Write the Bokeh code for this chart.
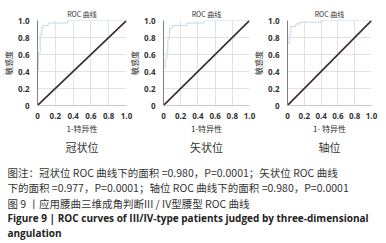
from bokeh.plotting import figure
from bokeh.layouts import row, column
from bokeh.models import FixedTicker, CustomJSTickFormatter, Title, Range1d
from bokeh.core.properties import value
from bokeh.embed import file_html
from bokeh.resources import INLINE

# ---- data ----
panel_names = ["冠状位", "矢状位", "轴位"]
x_labels = ["1-特异性", "1-特异性", "1- 特异性"]
chart_title = "ROC 曲线"
y_label = "敏感度"
ticks = [0, 0.2, 0.4, 0.6, 0.8, 1.0]

fpr_coronal = [0, 0, 0.01, 0.01, 0.03, 0.03, 0.05, 0.05, 0.06, 0.06, 0.12, 0.12, 0.34, 0.34, 1.0]
tpr_coronal = [0, 0.42, 0.42, 0.62, 0.62, 0.84, 0.84, 0.92, 0.92, 0.94, 0.94, 0.97, 0.97, 1.0, 1.0]

fpr_sagittal = [0, 0, 0.02, 0.02, 0.04, 0.04, 0.05, 0.05, 0.07, 0.07, 0.10, 0.10, 0.27, 0.27, 0.47, 0.47, 1.0]
tpr_sagittal = [0, 0.45, 0.45, 0.55, 0.55, 0.62, 0.62, 0.78, 0.78, 0.91, 0.91, 0.94, 0.94, 0.97, 0.97, 1.0, 1.0]

fpr_axial = [0, 0, 0.02, 0.02, 0.04, 0.04, 0.10, 0.10, 0.15, 0.15, 0.40, 0.40, 1.0]
tpr_axial = [0, 0.73, 0.73, 0.83, 0.83, 0.93, 0.93, 0.96, 0.96, 0.98, 0.98, 1.0, 1.0]

ref_x = [0, 1]
ref_y = [0, 1]

caption_lines = [
    "图注：冠状位 ROC 曲线下的面积 =0.980，P=0.0001；矢状位 ROC 曲线",
    "下的面积 =0.977，P=0.0001；轴位 ROC 曲线下的面积 =0.980，P=0.0001",
    "图 9 丨应用腰曲三维成角判断III / IV型腰型 ROC 曲线",
    "Figure 9  |  ROC curves of III/IV-type patients judged by three-dimensional",
    "angulation",
]

curves = [(fpr_coronal, tpr_coronal), (fpr_sagittal, tpr_sagittal), (fpr_axial, tpr_axial)]

# layout params: (width, left border, right border, margin-left)
geo = [(136, 26, 10, 0), (133, 22, 10, -10), (136, 21, 15, -9)]

CJK = "Noto Sans CJK SC"
fmt = CustomJSTickFormatter(code="return tick == 0 ? '0' : tick.toFixed(1);")

figs = []
for i, ((fx, ty), (w, lb, rb, ml)) in enumerate(zip(curves, geo)):
    p = figure(width=w, height=155, output_backend="svg", toolbar_location=None,
               x_range=Range1d(0, 1), y_range=Range1d(0, 1),
               min_border_left=lb, min_border_right=rb, min_border_top=20, min_border_bottom=0,
               margin=(0, 0, 0, ml))
    p.background_fill_color = "white"
    p.border_fill_alpha = 0
    p.outline_line_color = None
    p.title.text = chart_title
    p.title.align = "center"
    p.title.text_font = CJK
    p.title.text_font_size = "7px"
    p.title.text_font_style = "normal"
    p.title.text_color = "#333333"
    p.title.standoff = 4
    for ax in (p.xaxis[0], p.yaxis[0]):
        ax.ticker = FixedTicker(ticks=ticks)
        ax.formatter = fmt
        ax.major_tick_line_color = None
        ax.minor_tick_line_color = None
        ax.major_label_text_font = "Open Sans"
        ax.major_label_text_font_size = "8px"
        ax.major_label_text_font_style = "bold"
        ax.major_label_text_color = "#333333"
        ax.axis_label_text_font = CJK
        ax.axis_label_text_font_size = "8px"
        ax.axis_label_text_font_style = "normal"
        ax.axis_label_text_color = "#333333"
        ax.major_label_standoff = 2
        ax.axis_label_standoff = 1
    p.xaxis.axis_label = x_labels[i]
    p.yaxis.axis_label = y_label
    p.yaxis.axis_line_color = "#808080"
    p.xaxis.axis_line_color = "#c8c8c8"
    p.xaxis.major_label_standoff = 1
    p.grid.ticker = FixedTicker(ticks=ticks)
    p.grid.grid_line_color = "#e2e2e2"
    p.add_layout(Title(text=panel_names[i], align="center", text_font=CJK,
                       text_font_size="11px", text_font_style="normal",
                       text_color="#333333", standoff=1), "below")
    p.line(fx, ty, line_color="#c3d7e8", line_width=1)
    p.line(ref_x, ref_y, line_color="#3a2a2a", line_width=1.6)
    figs.append(p)

cap = figure(width=386, height=88, output_backend="svg", toolbar_location=None,
             x_range=Range1d(0, 386), y_range=Range1d(88, 0),
             min_border=0)
cap.axis.visible = False
cap.grid.visible = False
cap.outline_line_color = None
cap_y = [17, 32, 48, 62, 77]
cap_styles = ["normal", "normal", "normal", "bold", "bold"]
cap_colors = ["#333333", "#333333", "#333333", "#222222", "#222222"]
cap_fonts = [CJK, CJK, CJK, "Open Sans", "Open Sans"]
cap_sizes = ["10.5px", "10.5px", "10.5px", "10px", "10px"]
for t, yy, st, c, f, s in zip(caption_lines, cap_y, cap_styles, cap_colors, cap_fonts, cap_sizes):
    cap.text(x=[7], y=[yy], text=[t], text_font=value(f), text_font_size=s,
             text_font_style=st, text_color=c, text_baseline="middle", text_align="left")

layout = column(row(*figs, spacing=0), cap, spacing=0)
open("out.html", "w").write(file_html(layout, INLINE))
